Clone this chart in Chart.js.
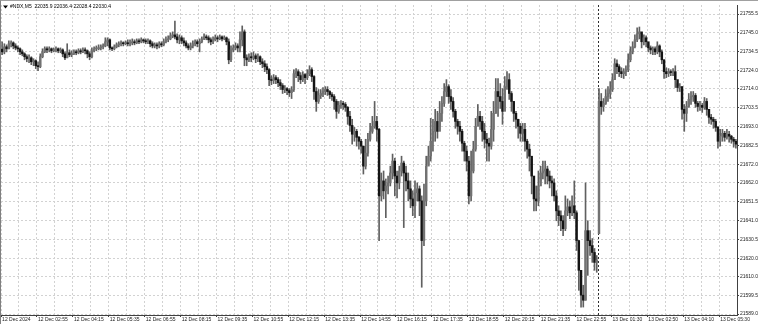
<!DOCTYPE html>
<html>
<head>
<meta charset="utf-8">
<script src="https://cdn.jsdelivr.net/npm/chart.js@4"></script>
<style>
    html, body { margin: 0; padding: 0; background: #fff; }
    #wrap { width: 757px; height: 323px; border-top: 1px solid #a0a0a0; border-left: 1px solid #808080; }
</style>
</head>
<body>
<div id="wrap"><canvas id="chart" width="757" height="323"></canvas></div>
<script>
const symbolTitle = '#NDX,M5  22035.9 22036.4 22028.4 22030.4';

// one label every 16 bars (80 min of M5 bars)
const timeLabels = ['12 Dec 2024', '12 Dec 02:55', '12 Dec 04:15', '12 Dec 05:35', '12 Dec 06:55',
    '12 Dec 08:15', '12 Dec 09:35', '12 Dec 10:55', '12 Dec 12:15', '12 Dec 13:35', '12 Dec 14:55',
    '12 Dec 16:15', '12 Dec 17:35', '12 Dec 18:55', '12 Dec 20:15', '12 Dec 21:35', '12 Dec 22:55',
    '13 Dec 01:30', '13 Dec 02:50', '13 Dec 04:10', '13 Dec 05:30'];

const priceTicks = [21755.5, 21745.0, 21734.5, 21724.0, 21714.0, 21703.5, 21693.0, 21682.5, 21672.0,
    21662.0, 21651.5, 21641.0, 21630.5, 21620.0, 21610.0, 21599.5, 21589.0];

const firstOpen = 21736.0;
const sessionStart = 266;   // first bar of 13 Dec
const sessionOpen = 21633.6;

const closes = [
    21734.5, 21737.3, 21736.2, 21739.0, 21739.5, 21737.8, 21736.7, 21736.2, 21734.5, 21733.4,
    21731.8, 21730.7, 21731.2, 21729.0, 21729.6, 21726.8, 21726.3, 21731.8, 21734.5, 21736.2,
    21735.6, 21736.2, 21735.1, 21735.6, 21736.2, 21735.1, 21735.6, 21733.4, 21731.2, 21734.0,
    21732.9, 21733.4, 21734.5, 21734.0, 21735.1, 21734.5, 21735.6, 21735.1, 21733.4, 21731.8,
    21735.1, 21736.2, 21736.2, 21736.7, 21737.3, 21737.8, 21740.1, 21741.2, 21736.7, 21736.2,
    21737.3, 21738.4, 21739.0, 21739.5, 21739.0, 21739.5, 21739.0, 21739.5, 21740.1, 21739.5,
    21740.6, 21740.1, 21741.2, 21740.6, 21740.1, 21740.6, 21739.0, 21737.8, 21738.4, 21737.8,
    21739.0, 21738.4, 21740.1, 21741.2, 21741.7, 21743.4, 21743.9, 21742.8, 21741.2, 21742.3,
    21740.6, 21739.5, 21737.8, 21736.7, 21737.8, 21739.0, 21740.1, 21739.0, 21740.1, 21741.7,
    21742.8, 21742.3, 21741.2, 21740.1, 21741.2, 21742.3, 21741.7, 21742.8, 21741.7, 21742.3,
    21740.1, 21730.1, 21735.6, 21736.7, 21737.8, 21736.7, 21741.2, 21745.6, 21731.2, 21730.1,
    21731.8, 21731.2, 21732.3, 21730.7, 21731.8, 21729.0, 21727.9, 21726.3, 21724.6, 21719.1,
    21718.6, 21720.2, 21719.1, 21717.4, 21715.8, 21713.6, 21714.1, 21713.0, 21711.9, 21713.6,
    21722.4, 21723.5, 21721.3, 21719.1, 21721.9, 21720.2, 21722.4, 21724.6, 21720.8, 21712.5,
    21707.0, 21710.3, 21711.4, 21712.5, 21713.6, 21712.5, 21710.8, 21709.7, 21707.0, 21701.5,
    21704.8, 21705.9, 21705.3, 21703.7, 21698.7, 21693.7, 21688.8, 21690.4, 21687.1, 21684.9,
    21682.2, 21671.1, 21678.3, 21686.0, 21690.4, 21693.2, 21695.9, 21691.5, 21654.6, 21662.9,
    21657.4, 21660.1, 21661.8, 21667.3, 21673.9, 21665.6, 21661.8, 21668.4, 21672.8, 21667.3,
    21662.9, 21658.5, 21652.9, 21649.1, 21656.3, 21658.5, 21651.8, 21629.8, 21651.8, 21671.1,
    21676.6, 21684.9, 21690.4, 21695.9, 21690.4, 21700.4, 21705.9, 21712.5, 21715.2, 21709.7,
    21707.0, 21701.5, 21695.9, 21693.2, 21690.4, 21683.8, 21679.4, 21673.9, 21654.6, 21668.4,
    21680.5, 21693.2, 21698.7, 21695.9, 21690.4, 21686.0, 21683.8, 21682.2, 21691.5, 21700.4,
    21712.5, 21709.7, 21707.0, 21701.5, 21715.2, 21719.1, 21711.4, 21707.0, 21700.4, 21697.1,
    21693.2, 21689.3, 21691.5, 21684.9, 21680.5, 21676.6, 21665.6, 21652.9, 21651.8, 21660.1,
    21667.3, 21668.4, 21669.5, 21665.6, 21662.9, 21661.8, 21654.6, 21646.3, 21643.6, 21640.8,
    21636.4, 21646.3, 21648.5, 21645.2, 21649.1, 21645.2, 21629.8, 21613.3, 21599.5, 21596.7,
    21635.3, 21629.8, 21627.0, 21623.2, 21617.7, 21618.8, 21707.0, 21704.2, 21705.9, 21709.7,
    21711.4, 21713.6, 21719.1, 21727.9, 21726.3, 21723.5, 21722.4, 21723.5, 21724.6, 21730.1,
    21734.5, 21737.3, 21741.2, 21744.5, 21745.6, 21740.1, 21742.3, 21740.1, 21736.7, 21735.6,
    21736.2, 21734.5, 21737.8, 21734.5, 21730.1, 21723.5, 21722.4, 21723.5, 21723.0, 21723.5,
    21719.1, 21714.7, 21715.2, 21702.6, 21700.4, 21704.2, 21708.1, 21709.7, 21710.3, 21705.9,
    21704.2, 21704.8, 21703.7, 21707.0, 21702.6, 21698.2, 21697.1, 21695.9, 21692.6, 21684.9,
    21687.7, 21689.3, 21687.1, 21688.8, 21687.7, 21686.0, 21684.9, 21683.3
];

const highs = [
    21740.1, 21739.0, 21738.4, 21740.6, 21740.6, 21740.1, 21739.0, 21737.8, 21736.7, 21735.6,
    21734.0, 21732.9, 21732.9, 21731.8, 21730.7, 21730.1, 21729.0, 21733.4, 21736.2, 21737.3,
    21737.3, 21737.3, 21736.7, 21736.7, 21737.3, 21736.7, 21736.7, 21736.2, 21734.5, 21739.0,
    21735.6, 21735.1, 21735.6, 21735.6, 21736.2, 21736.2, 21736.7, 21736.7, 21735.6, 21734.5,
    21736.7, 21737.3, 21737.8, 21738.4, 21738.4, 21739.0, 21742.3, 21742.3, 21741.7, 21737.3,
    21738.4, 21739.5, 21740.1, 21740.6, 21740.1, 21740.6, 21741.2, 21741.2, 21741.7, 21741.2,
    21741.7, 21741.7, 21742.3, 21741.7, 21741.7, 21741.7, 21741.2, 21740.1, 21739.5, 21739.5,
    21740.1, 21740.1, 21741.7, 21742.8, 21743.4, 21745.0, 21745.6, 21751.6, 21744.5, 21743.9,
    21743.4, 21742.3, 21740.6, 21739.0, 21739.5, 21740.6, 21741.2, 21741.2, 21741.7, 21742.8,
    21744.5, 21743.9, 21743.4, 21742.3, 21742.8, 21743.9, 21743.4, 21743.9, 21743.4, 21743.4,
    21742.8, 21741.7, 21737.8, 21738.4, 21739.5, 21739.0, 21745.6, 21748.9, 21746.7, 21732.9,
    21733.4, 21734.0, 21734.5, 21733.4, 21733.4, 21732.3, 21730.7, 21729.6, 21727.9, 21725.2,
    21721.3, 21721.9, 21721.3, 21720.2, 21719.1, 21716.9, 21715.8, 21714.7, 21714.1, 21715.2,
    21724.6, 21725.2, 21724.6, 21723.0, 21723.5, 21722.4, 21724.6, 21726.8, 21725.7, 21721.3,
    21714.7, 21713.6, 21713.6, 21714.7, 21715.2, 21715.2, 21713.0, 21711.9, 21710.8, 21708.1,
    21707.0, 21707.5, 21707.0, 21706.4, 21704.2, 21701.5, 21697.1, 21692.6, 21691.5, 21687.7,
    21686.0, 21682.2, 21686.0, 21689.3, 21694.8, 21698.7, 21707.0, 21698.7, 21692.1, 21667.3,
    21668.4, 21664.0, 21665.6, 21671.1, 21677.8, 21675.5, 21668.4, 21671.1, 21676.6, 21673.9,
    21671.1, 21667.3, 21662.9, 21657.4, 21662.9, 21661.8, 21660.1, 21654.6, 21661.2, 21676.6,
    21682.2, 21697.6, 21697.1, 21702.6, 21701.5, 21707.0, 21709.7, 21716.9, 21719.1, 21716.3,
    21713.6, 21709.2, 21702.6, 21697.1, 21695.9, 21691.5, 21684.9, 21682.2, 21676.6, 21679.4,
    21684.9, 21697.6, 21705.3, 21701.5, 21698.7, 21694.8, 21689.3, 21686.6, 21701.5, 21707.0,
    21719.7, 21719.7, 21716.9, 21714.1, 21720.8, 21723.5, 21722.4, 21712.5, 21707.0, 21701.5,
    21697.1, 21694.8, 21694.8, 21694.8, 21686.0, 21683.3, 21675.0, 21662.9, 21660.1, 21668.4,
    21671.1, 21673.9, 21673.9, 21671.1, 21668.4, 21665.6, 21664.0, 21657.4, 21649.1, 21646.3,
    21643.6, 21654.6, 21652.9, 21651.8, 21654.6, 21662.9, 21646.3, 21629.8, 21613.3, 21605.0,
    21661.8, 21640.8, 21635.3, 21630.9, 21625.4, 21621.5, 21714.1, 21711.4, 21708.6, 21713.6,
    21715.2, 21718.0, 21722.4, 21730.7, 21730.1, 21727.4, 21725.7, 21725.2, 21726.8, 21733.4,
    21737.3, 21740.1, 21743.9, 21747.8, 21748.3, 21744.5, 21743.9, 21743.4, 21739.0, 21737.8,
    21737.3, 21737.3, 21740.1, 21738.4, 21735.6, 21730.1, 21725.7, 21725.2, 21724.6, 21725.2,
    21726.8, 21716.9, 21716.9, 21715.2, 21705.3, 21707.0, 21711.4, 21712.5, 21712.5, 21711.4,
    21707.0, 21707.0, 21705.9, 21709.2, 21708.6, 21701.5, 21699.8, 21698.2, 21697.1, 21693.2,
    21691.5, 21691.5, 21690.4, 21691.5, 21690.4, 21688.2, 21687.1, 21686.0
];

const lows = [
    21732.9, 21733.4, 21734.5, 21736.2, 21737.3, 21736.2, 21735.6, 21734.5, 21732.9, 21732.3,
    21730.1, 21729.0, 21728.5, 21727.4, 21726.8, 21725.2, 21724.1, 21725.7, 21731.2, 21734.0,
    21734.0, 21734.5, 21734.0, 21734.5, 21734.5, 21734.0, 21734.0, 21731.8, 21730.1, 21731.2,
    21731.8, 21731.8, 21732.9, 21732.9, 21733.4, 21733.4, 21734.0, 21733.4, 21731.2, 21730.1,
    21731.2, 21734.5, 21735.1, 21735.6, 21735.6, 21736.2, 21737.3, 21737.8, 21735.6, 21735.1,
    21735.6, 21736.7, 21737.3, 21737.8, 21737.8, 21738.4, 21737.8, 21737.8, 21738.4, 21738.4,
    21739.0, 21739.0, 21739.5, 21739.5, 21739.0, 21739.0, 21737.3, 21736.7, 21736.7, 21736.2,
    21736.7, 21737.3, 21737.8, 21739.5, 21740.1, 21741.2, 21742.3, 21741.7, 21739.5, 21739.0,
    21739.0, 21737.8, 21736.7, 21735.6, 21735.6, 21736.7, 21737.8, 21737.3, 21734.5, 21739.5,
    21741.2, 21741.2, 21739.5, 21738.4, 21739.0, 21740.6, 21740.1, 21741.2, 21740.6, 21741.2,
    21738.4, 21727.9, 21729.0, 21734.5, 21735.6, 21734.5, 21734.5, 21737.8, 21726.8, 21726.8,
    21729.0, 21729.0, 21730.1, 21728.5, 21729.0, 21727.4, 21725.7, 21723.5, 21722.4, 21715.8,
    21716.3, 21716.9, 21716.9, 21715.2, 21713.6, 21711.4, 21711.9, 21710.8, 21709.7, 21708.6,
    21712.5, 21720.2, 21718.0, 21716.9, 21718.0, 21716.9, 21719.1, 21721.3, 21718.0, 21708.1,
    21701.5, 21705.9, 21708.6, 21709.7, 21710.8, 21710.3, 21708.6, 21707.5, 21702.6, 21697.6,
    21700.4, 21703.1, 21702.6, 21701.5, 21694.3, 21690.4, 21683.3, 21684.9, 21682.2, 21680.5,
    21678.3, 21666.7, 21669.5, 21676.6, 21684.9, 21689.3, 21692.1, 21684.9, 21629.8, 21651.8,
    21652.9, 21642.5, 21655.7, 21660.1, 21664.0, 21654.6, 21653.5, 21658.5, 21665.6, 21637.0,
    21657.4, 21651.8, 21648.0, 21643.6, 21642.5, 21651.8, 21643.6, 21603.9, 21627.0, 21649.1,
    21672.2, 21673.9, 21679.4, 21684.9, 21686.6, 21693.2, 21695.9, 21704.2, 21709.7, 21705.9,
    21702.6, 21698.2, 21692.1, 21688.8, 21684.9, 21679.4, 21673.9, 21668.4, 21650.2, 21651.8,
    21667.3, 21679.4, 21694.8, 21691.5, 21684.9, 21681.1, 21673.9, 21673.9, 21680.5, 21684.9,
    21700.4, 21698.7, 21703.1, 21694.3, 21707.0, 21713.6, 21708.1, 21701.5, 21695.9, 21692.1,
    21686.6, 21684.9, 21684.9, 21679.4, 21675.5, 21668.4, 21655.7, 21646.3, 21646.3, 21649.1,
    21662.9, 21664.0, 21661.2, 21661.2, 21659.0, 21654.6, 21651.8, 21640.8, 21638.1, 21635.3,
    21632.5, 21635.3, 21643.6, 21641.9, 21643.6, 21641.9, 21624.3, 21602.2, 21592.9, 21592.9,
    21596.7, 21610.5, 21621.5, 21617.7, 21613.3, 21612.2, 21633.6, 21699.8, 21701.5, 21705.3,
    21707.0, 21708.6, 21712.5, 21719.1, 21722.4, 21720.8, 21720.2, 21719.7, 21721.3, 21723.5,
    21729.0, 21733.4, 21736.7, 21740.1, 21741.7, 21736.7, 21738.4, 21737.3, 21734.5, 21733.4,
    21732.9, 21732.9, 21733.4, 21731.8, 21727.9, 21719.7, 21720.2, 21720.8, 21721.3, 21721.3,
    21714.7, 21712.5, 21712.5, 21697.1, 21690.4, 21695.9, 21703.7, 21705.3, 21707.0, 21703.7,
    21701.5, 21702.0, 21700.9, 21702.6, 21699.3, 21694.8, 21694.3, 21692.1, 21690.4, 21681.1,
    21682.2, 21684.9, 21684.9, 21686.0, 21684.4, 21683.8, 21681.6, 21681.1
];

function openOf(i) {
    if (i === 0) return firstOpen;
    if (i === sessionStart) return sessionOpen;
    return closes[i - 1];
}

let labels = [];
let wicks = [];
let bodies = [];
for (let i = 0; i < closes.length; i++) {
    labels[i] = i % 16 === 0 ? timeLabels[i / 16] : '';
    wicks[i] = [lows[i], highs[i]];
    bodies[i] = [openOf(i), closes[i]];
}

const gridColor = '#d2d2d2';
const axisColor = '#404040';
const bullColor = '#727272';   // hollow candles look grey at this size
const bearColor = '#141414';

function bodyColor(ctx) {
    const v = ctx.raw;
    if (!v) return bearColor;
    return v[1] >= v[0] ? bullColor : bearColor;
}

const headerPlugin = {
    id: 'header',
    afterDraw(chart) {
        const ctx = chart.ctx;
        ctx.save();
        ctx.fillStyle = '#000';
        ctx.beginPath();
        ctx.moveTo(2, 4.5);
        ctx.lineTo(7, 4.5);
        ctx.lineTo(4.5, 7.5);
        ctx.closePath();
        ctx.fill();
        ctx.font = '5px "Liberation Sans"';
        ctx.textBaseline = 'middle';
        ctx.fillText(symbolTitle, 9, 6);
        ctx.restore();
    }
};

// dotted period separator at the start of 13 Dec
const separatorPlugin = {
    id: 'separator',
    beforeDatasetsDraw(chart) {
        const ctx = chart.ctx;
        const area = chart.chartArea;
        const x = Math.round(chart.scales.x.getPixelForValue(sessionStart)) - 0.5;
        ctx.save();
        ctx.strokeStyle = '#303030';
        ctx.lineWidth = 1;
        ctx.setLineDash([2, 2]);
        ctx.beginPath();
        ctx.moveTo(x, area.top);
        ctx.lineTo(x, area.bottom);
        ctx.stroke();
        ctx.restore();
    }
};

Chart.defaults.font.family = '"Liberation Sans", Arial, sans-serif';
Chart.defaults.font.size = 5;

new Chart(document.getElementById('chart'), {
    type: 'bar',
    data: {
        labels: labels,
        datasets: [{
            data: wicks,
            backgroundColor: '#606060',
            barThickness: 1,
            grouped: false,
            order: 2
        }, {
            data: bodies,
            backgroundColor: bodyColor,
            barThickness: 1.8,
            minBarLength: 1,
            grouped: false,
            order: 1
        }]
    },
    options: {
        responsive: false,
        animation: false,
        devicePixelRatio: 1,
        layout: { padding: { top: 2, left: 0, right: 0, bottom: 0 } },
        plugins: {
            legend: { display: false },
            tooltip: { enabled: false }
        },
        scales: {
            x: {
                afterFit: s => { s.height = 9; },
                ticks: {
                    autoSkip: false, maxRotation: 0, minRotation: 0, align: 'start',
                    color: '#222', padding: 0, font: { size: 5 }
                },
                grid: {
                    offset: true,
                    color: c => c.index % 8 === 0 ? gridColor : 'transparent',
                    tickColor: c => c.index % 16 === 0 ? axisColor : 'transparent',
                    tickLength: 2
                },
                border: { color: axisColor, dash: [2, 2] }
            },
            y: {
                position: 'right',
                min: 21588.5,
                max: 21760.5,
                afterBuildTicks: s => { s.ticks = priceTicks.map(v => ({ value: v })); },
                afterFit: s => { s.width = 21; },
                ticks: {
                    autoSkip: false, color: '#222', padding: 1, font: { size: 5 },
                    callback: v => v.toFixed(1)
                },
                grid: { color: gridColor, tickColor: axisColor, tickLength: 2 },
                border: { color: axisColor, dash: [2, 2] }
            }
        }
    },
    plugins: [headerPlugin, separatorPlugin]
});
</script>
</body>
</html>
